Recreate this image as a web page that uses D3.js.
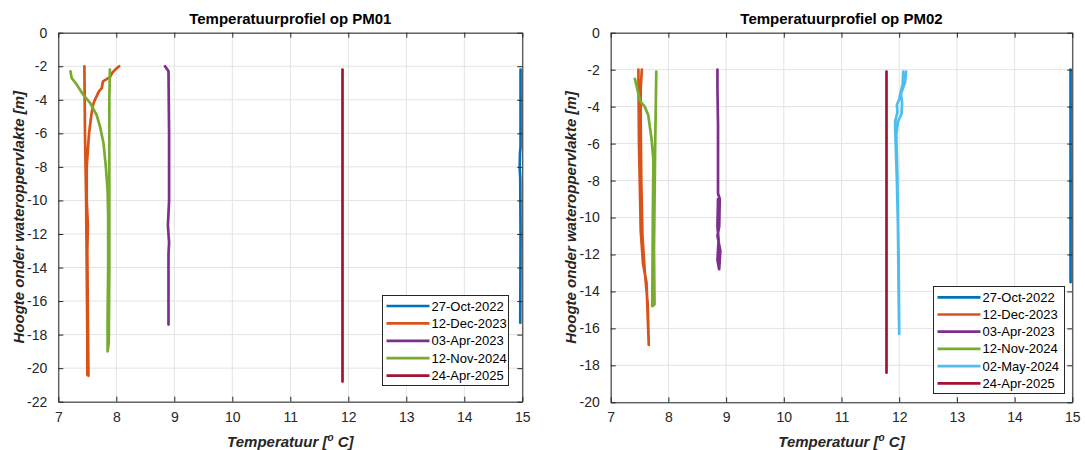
<!DOCTYPE html>
<html>
<head>
<meta charset="utf-8">
<script src="https://cdn.jsdelivr.net/npm/d3@7"></script>
<style>
  html, body { margin: 0; padding: 0; background: #fff; }
  svg { display: block; font-family: "Liberation Sans", Arial, sans-serif; }
</style>
</head>
<body>
<svg id="chart" width="1085" height="450"></svg>
<script>
// ---------------- DATA ----------------
const xTicks = [7, 8, 9, 10, 11, 12, 13, 14, 15];
const yTicksPM01 = [0, -2, -4, -6, -8, -10, -12, -14, -16, -18, -20, -22];
const yTicksPM02 = [0, -2, -4, -6, -8, -10, -12, -14, -16, -18, -20];

const titles = ["Temperatuurprofiel op PM01", "Temperatuurprofiel op PM02"];
const yLabel = "Hoogte onder wateroppervlakte [m]";

const labelsPM01 = ["27-Oct-2022", "12-Dec-2023", "03-Apr-2023", "12-Nov-2024", "24-Apr-2025"];
const labelsPM02 = ["27-Oct-2022", "12-Dec-2023", "03-Apr-2023", "12-Nov-2024", "02-May-2024", "24-Apr-2025"];

// [temperature (°C), height (m)]
const pm01_27Oct2022 = [[14.97,-2.2],[14.97,-6.8],[14.96,-7.2],[14.955,-8.0],[14.965,-8.7],[14.97,-12],[14.965,-17.3]];
const pm01_12Dec2023 = [[7.45,-2.0],[7.46,-6],[7.48,-10],[7.49,-14],[7.5,-18],[7.5,-20.4],[7.52,-20.45],[7.51,-17],[7.5,-13],[7.51,-11.5],[7.49,-10],[7.49,-8.0],[7.51,-7.0],[7.53,-6.0],[7.57,-4.9],[7.6,-4.3],[7.63,-4.0],[7.66,-3.8],[7.7,-3.5],[7.75,-3.3],[7.77,-2.9],[7.82,-2.8],[7.89,-2.65],[7.93,-2.4],[7.98,-2.2],[8.05,-2.0]];
const pm01_03Apr2023 = [[8.84,-2.0],[8.88,-2.2],[8.9,-2.3],[8.91,-6],[8.91,-10],[8.89,-11.5],[8.91,-12.5],[8.9,-13.2],[8.9,-17.4]];
const pm01_12Nov2024 = [[7.21,-2.3],[7.23,-2.7],[7.32,-3.1],[7.43,-3.7],[7.55,-4.2],[7.66,-4.9],[7.72,-5.6],[7.78,-6.6],[7.82,-8.0],[7.85,-9.4],[7.86,-11],[7.86,-14],[7.85,-17],[7.85,-19.0],[7.87,-18.5],[7.88,-14],[7.88,-8],[7.88,-4],[7.89,-2.2]];
const pm01_24Apr2025 = [[11.9,-2.2],[11.9,-20.8]];

const pm02_27Oct2022 = [[14.97,-2.0],[14.97,-13.5]];
const pm02_12Dec2023 = [[7.48,-2.0],[7.49,-6],[7.51,-9],[7.52,-10.7],[7.56,-12.5],[7.62,-13.5],[7.66,-16.9],[7.64,-14.6],[7.59,-12.9],[7.55,-11],[7.53,-8],[7.52,-5],[7.52,-3],[7.54,-2.0]];
const pm02_03Apr2023 = [[8.85,-2.0],[8.85,-3.0],[8.86,-5],[8.86,-8.7],[8.89,-9.0],[8.88,-10.5],[8.85,-11],[8.9,-11.8],[8.88,-12.8],[8.85,-12.3],[8.87,-11.2],[8.85,-10.5],[8.86,-9]];
const pm02_12Nov2024 = [[7.42,-2.5],[7.51,-3.7],[7.59,-4.0],[7.65,-4.45],[7.71,-5.8],[7.74,-6.9],[7.73,-10],[7.72,-14.8],[7.76,-14.7],[7.75,-11.8],[7.77,-6.3],[7.79,-2.1]];
const pm02_02May2024 = [[12.07,-2.1],[12.06,-2.8],[12.02,-3.3],[12.0,-3.6],[11.96,-3.9],[11.97,-4.3],[11.93,-4.8],[11.93,-5.2],[11.96,-8],[11.99,-12],[12.0,-16.3],[11.99,-14],[11.97,-8],[11.95,-5.5],[11.98,-4.8],[12.04,-4.4],[12.05,-3.8],[12.03,-3.3],[12.1,-2.7],[12.12,-2.1]];
const pm02_24Apr2025 = [[11.78,-2.1],[11.78,-18.4]];

// ---------------- STYLE ----------------
const colors = {
  blue: "#0072BD", orange: "#D95319", purple: "#7E2F8E",
  green: "#77AC30", lightblue: "#4DBEEE", red: "#A2142F"
};

const panels = [
  {
    title: titles[0], left: 58.3, right: 522.3, top: 32.7, bottom: 401.7,
    yDomain: [-22, 0], yTicks: yTicksPM01, yLabelX: 23.5,
    series: [
      {name: labelsPM01[0], color: colors.blue, data: pm01_27Oct2022},
      {name: labelsPM01[1], color: colors.orange, data: pm01_12Dec2023},
      {name: labelsPM01[2], color: colors.purple, data: pm01_03Apr2023},
      {name: labelsPM01[3], color: colors.green, data: pm01_12Nov2024},
      {name: labelsPM01[4], color: colors.red, data: pm01_24Apr2025}
    ],
    legend: {x: 382, y: 295, w: 126, h: 90, rowStart: 11, rowStep: 17.4}
  },
  {
    title: titles[1], left: 610.7, right: 1072.3, top: 32.7, bottom: 402.3,
    yDomain: [-20, 0], yTicks: yTicksPM02, yLabelX: 575.5,
    series: [
      {name: labelsPM02[0], color: colors.blue, data: pm02_27Oct2022},
      {name: labelsPM02[1], color: colors.orange, data: pm02_12Dec2023},
      {name: labelsPM02[2], color: colors.purple, data: pm02_03Apr2023},
      {name: labelsPM02[3], color: colors.green, data: pm02_12Nov2024},
      {name: labelsPM02[4], color: colors.lightblue, data: pm02_02May2024},
      {name: labelsPM02[5], color: colors.red, data: pm02_24Apr2025}
    ],
    legend: {x: 933, y: 286, w: 131, h: 107, rowStart: 11.3, rowStep: 17.2}
  }
];

const axisColor = "#262626";
const gridColor = "#e3e3e3";
const svg = d3.select("#chart");

panels.forEach(p => {
  const x = d3.scaleLinear().domain([7, 15]).range([p.left, p.right]);
  const y = d3.scaleLinear().domain(p.yDomain).range([p.bottom, p.top]);
  const g = svg.append("g");

  // grid
  g.append("g").selectAll("line").data(xTicks).join("line")
    .attr("x1", d => x(d)).attr("x2", d => x(d))
    .attr("y1", p.top).attr("y2", p.bottom)
    .attr("stroke", gridColor).attr("stroke-width", 1);
  g.append("g").selectAll("line").data(p.yTicks).join("line")
    .attr("y1", d => y(d)).attr("y2", d => y(d))
    .attr("x1", p.left).attr("x2", p.right)
    .attr("stroke", gridColor).attr("stroke-width", 1);

  // data lines
  const line = d3.line().x(d => x(d[0])).y(d => y(d[1]));
  g.append("g").selectAll("path").data(p.series).join("path")
    .attr("d", s => line(s.data))
    .attr("fill", "none")
    .attr("stroke", s => s.color)
    .attr("stroke-width", 2.7)
    .attr("stroke-linejoin", "round")
    .attr("stroke-linecap", "round");

  // axes (inward ticks, mirrored on top/right)
  const tl = 5;
  const axB = d3.axisBottom(x).tickValues(xTicks).tickSizeInner(-tl).tickSizeOuter(0).tickPadding(10).tickFormat(d3.format("d"));
  const axT = d3.axisTop(x).tickValues(xTicks).tickSizeInner(-tl).tickSizeOuter(0).tickFormat("");
  const axL = d3.axisLeft(y).tickValues(p.yTicks).tickSizeInner(-tl).tickSizeOuter(0).tickPadding(11).tickFormat(d3.format("d"));
  const axR = d3.axisRight(y).tickValues(p.yTicks).tickSizeInner(-tl).tickSizeOuter(0).tickFormat("");

  const styleAxis = sel => {
    sel.select(".domain").attr("stroke", axisColor).attr("stroke-width", 1);
    sel.selectAll(".tick line").attr("stroke", axisColor).attr("stroke-width", 1);
    sel.selectAll(".tick text").attr("fill", axisColor)
      .style("font-family", "'Liberation Sans', Arial, sans-serif").style("font-size", "14px");
  };
  g.append("g").attr("transform", `translate(0,${p.bottom})`).call(axB).call(styleAxis);
  g.append("g").attr("transform", `translate(0,${p.top})`).call(axT).call(styleAxis);
  g.append("g").attr("transform", `translate(${p.left},0)`).call(axL).call(styleAxis);
  g.append("g").attr("transform", `translate(${p.right},0)`).call(axR).call(styleAxis);
  g.selectAll(".tick text").text(function() { return d3.select(this).text().replace("−", "-"); });

  // title
  g.append("text").attr("x", (p.left + p.right) / 2).attr("y", 23.5)
    .attr("text-anchor", "middle").attr("font-weight", "bold").attr("font-size", 15)
    .attr("fill", "#000").text(p.title);

  // x label
  const xl = g.append("text").attr("x", (p.left + p.right) / 2).attr("y", 446.5)
    .attr("text-anchor", "middle").attr("font-weight", "bold").attr("font-style", "italic")
    .attr("font-size", 15).attr("fill", axisColor);
  xl.append("tspan").text("Temperatuur [");
  xl.append("tspan").attr("dy", -6).attr("font-size", 10).text("o");
  xl.append("tspan").attr("dy", 6).text(" C]");

  // y label
  g.append("text")
    .attr("transform", `translate(${p.yLabelX},${(p.top + p.bottom) / 2}) rotate(-90)`)
    .attr("text-anchor", "middle").attr("font-weight", "bold").attr("font-style", "italic")
    .attr("font-size", 15).attr("fill", axisColor).text(yLabel);

  // legend
  const L = p.legend;
  const lg = g.append("g").attr("transform", `translate(${L.x},${L.y})`);
  lg.append("rect").attr("x", 0.5).attr("y", 0.5).attr("width", L.w).attr("height", L.h)
    .attr("fill", "#fff").attr("stroke", axisColor).attr("stroke-width", 1);
  const rows = lg.selectAll("g.row").data(p.series).join("g").attr("class", "row")
    .attr("transform", (d, i) => `translate(0,${L.rowStart + i * L.rowStep})`);
  rows.append("line").attr("x1", 4.5).attr("x2", 47.5).attr("y1", 0).attr("y2", 0)
    .attr("stroke", d => d.color).attr("stroke-width", 2.7);
  rows.append("text").attr("x", 49.5).attr("y", 0).attr("dy", "0.35em")
    .attr("font-size", 13).attr("fill", "#000").text(d => d.name);
});
</script>
</body>
</html>
